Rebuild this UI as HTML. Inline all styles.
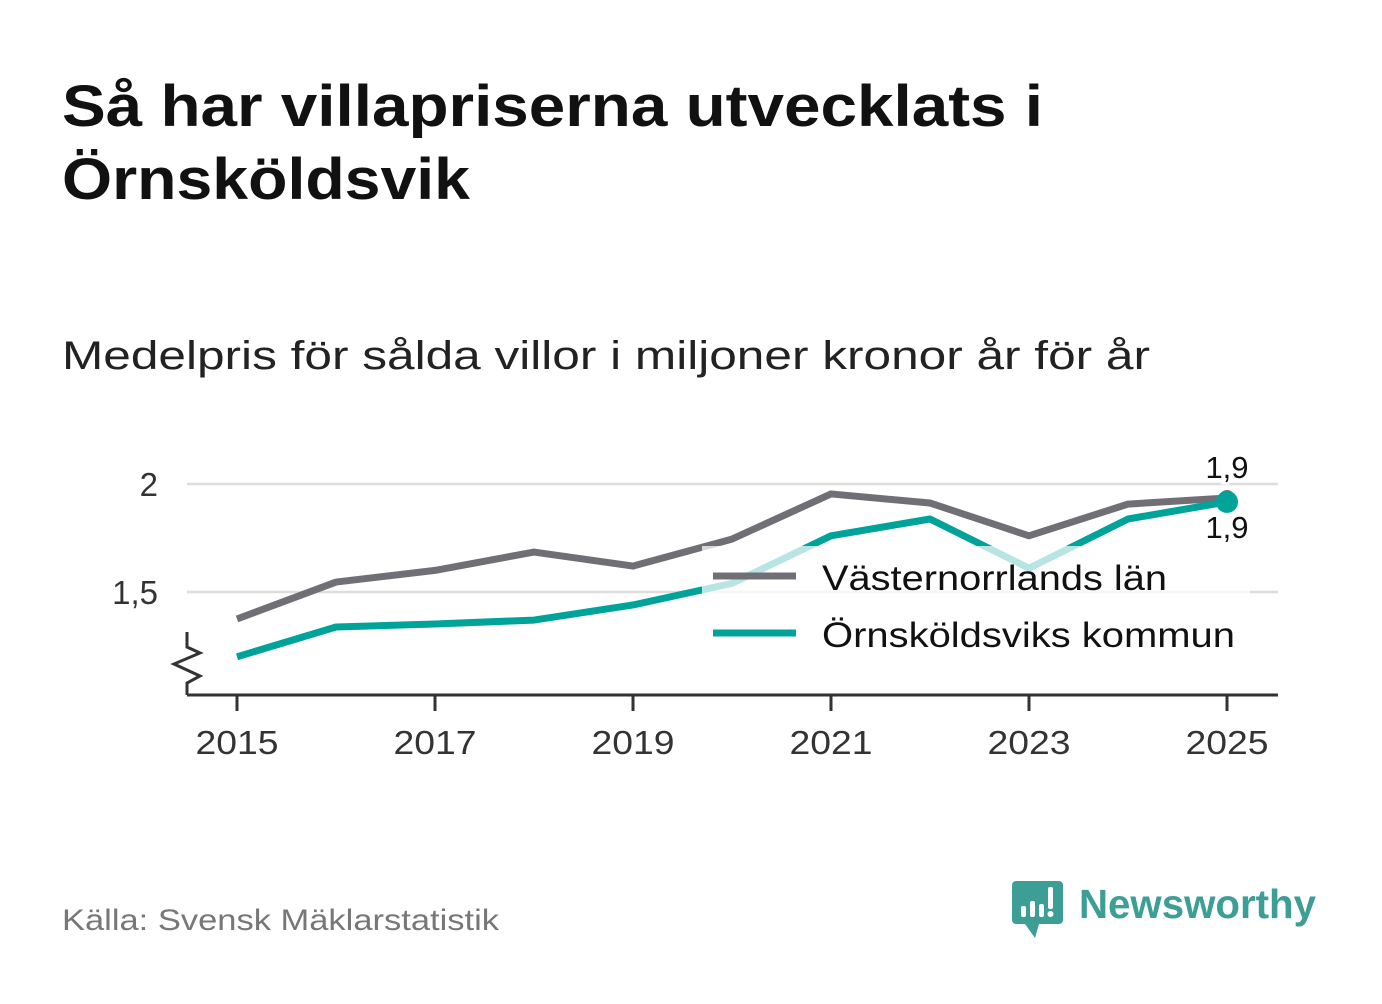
<!DOCTYPE html>
<html><head><meta charset="utf-8"><style>
body{margin:0;background:#fff;width:1382px;height:999px;overflow:hidden;font-family:"Liberation Sans","DejaVu Sans",sans-serif}
</style></head><body>
<svg width="1382" height="999" xmlns="http://www.w3.org/2000/svg">
<text x="62" y="126" font-size="58" font-weight="bold" fill="#111" textLength="981" lengthAdjust="spacingAndGlyphs">Så har villapriserna utvecklats i</text>
<text x="62" y="199" font-size="58" font-weight="bold" fill="#111" textLength="408" lengthAdjust="spacingAndGlyphs">Örnsköldsvik</text>
<text x="62" y="369" font-size="40" fill="#222" textLength="1088" lengthAdjust="spacingAndGlyphs">Medelpris för sålda villor i miljoner kronor år för år</text>
<g id="grid"></g>
<g id="yticks"></g>
<g id="xaxis"></g>
<g id="lines"></g>
<rect x="702" y="546" width="548" height="114" fill="#fff" opacity="0.72"/>
<g>
<line x1="713" y1="576" x2="796" y2="576" stroke="#706f76" stroke-width="7"/>
<text x="822" y="590" font-size="35" fill="#111" textLength="345" lengthAdjust="spacingAndGlyphs">Västernorrlands län</text>
<line x1="713" y1="633" x2="796" y2="633" stroke="#00a39a" stroke-width="7"/>
<text x="822" y="647" font-size="35" fill="#111" textLength="413" lengthAdjust="spacingAndGlyphs">Örnsköldsviks kommun</text>
</g>
<g id="labels"></g>
<text x="62" y="930" font-size="30" fill="#777" textLength="437" lengthAdjust="spacingAndGlyphs">Källa: Svensk Mäklarstatistik</text>
<g>
<path d="M1016 881 h43 a4 4 0 0 1 4 4 v35 a4 4 0 0 1 -4 4 h-20 l-4 14 l-10 -14 h-9 a4 4 0 0 1 -4 -4 v-35 a4 4 0 0 1 4 -4z" fill="#3d9e96"/>
<rect x="1021" y="906" width="5" height="11" rx="2" fill="#fff"/><rect x="1030" y="901" width="5" height="16" rx="2" fill="#fff"/><rect x="1039" y="904" width="5" height="13" rx="2" fill="#fff"/><rect x="1048" y="887" width="5" height="22" rx="2" fill="#fff"/><circle cx="1050.5" cy="914" r="3" fill="#fff"/>
<text x="1079" y="918" font-size="41" font-weight="bold" fill="#3d9e96" textLength="237" lengthAdjust="spacingAndGlyphs">Newsworthy</text>
</g>
</svg>
<script>
const years=[2015,2016,2017,2018,2019,2020,2021,2022,2023,2024,2025];
const lanValues=[1.375,1.546,1.60,1.685,1.62,1.745,1.954,1.912,1.76,1.907,1.935];
const kommunValues=[1.20,1.338,1.352,1.37,1.44,1.54,1.76,1.838,1.61,1.838,1.917];
const yTicks=[1.5,2];
const yTickLabels=["1,5","2"];
const xTicks=[2015,2017,2019,2021,2023,2025];
const NS="http://www.w3.org/2000/svg";
const x=v=>237+(v-2015)*99;
const y=v=>484-(v-2)*216;
function mk(t,a,p){const e=document.createElementNS(NS,t);for(const k in a)e.setAttribute(k,a[k]);document.getElementById(p).appendChild(e);return e;}
yTicks.forEach((t,i)=>{
 const g=mk('line',{x1:187,x2:1278,y1:y(t),y2:y(t),stroke:'#ddd','stroke-width':2.5},'grid');
 
 
 const l=mk('text',{x:158,y:y(t)+12,'font-size':33,fill:'#333','text-anchor':'end'},'yticks');
 l.textContent=yTickLabels[i];
 
 
});
const ax=mk('line',{x1:187,x2:1278,y1:695,y2:695,stroke:'#333','stroke-width':3},'xaxis');


const zz=mk('polyline',{points:'187,695 187,683 200,676 174,664 200,653 187,647 187,632',fill:'none',stroke:'#333','stroke-width':3},'xaxis');


xTicks.forEach(t=>{
 const tk=mk('line',{x1:x(t),x2:x(t),y1:695,y2:711,stroke:'#333','stroke-width':3},'xaxis');
 
 
 const l=mk('text',{x:x(t),y:754,'font-size':33,fill:'#333','text-anchor':'middle',textLength:83,lengthAdjust:'spacingAndGlyphs'},'xaxis');
 l.textContent=t;
 
 
});
function series(vals,color,name){
 const p=mk('polyline',{points:vals.map((v,i)=>x(years[i])+','+y(v)).join(' '),fill:'none',stroke:color,'stroke-width':7,'stroke-linejoin':'round'},'lines');
 
 
}
series(lanValues,'#706f76','line-vasternorrland');
series(kommunValues,'#00a39a','line-ornskoldsvik');
const n=years.length-1;
const d1=mk('circle',{cx:x(years[n]),cy:y(lanValues[n]),r:8,fill:'#706f76'},'lines');


const d2=mk('circle',{cx:x(years[n]),cy:y(kommunValues[n]),r:11,fill:'#00a39a'},'lines');


const fmt=v=>v.toFixed(1).replace('.',',');
const l1=mk('text',{x:x(years[n]),y:y(lanValues[n])-20,'font-size':31,fill:'#111','text-anchor':'middle',stroke:'#fff','stroke-width':5,'paint-order':'stroke'},'labels');
l1.textContent=fmt(lanValues[n]);


const l2=mk('text',{x:x(years[n]),y:y(kommunValues[n])+36,'font-size':31,fill:'#111','text-anchor':'middle',stroke:'#fff','stroke-width':5,'paint-order':'stroke'},'labels');
l2.textContent=fmt(kommunValues[n]);


</script>
</body></html>
